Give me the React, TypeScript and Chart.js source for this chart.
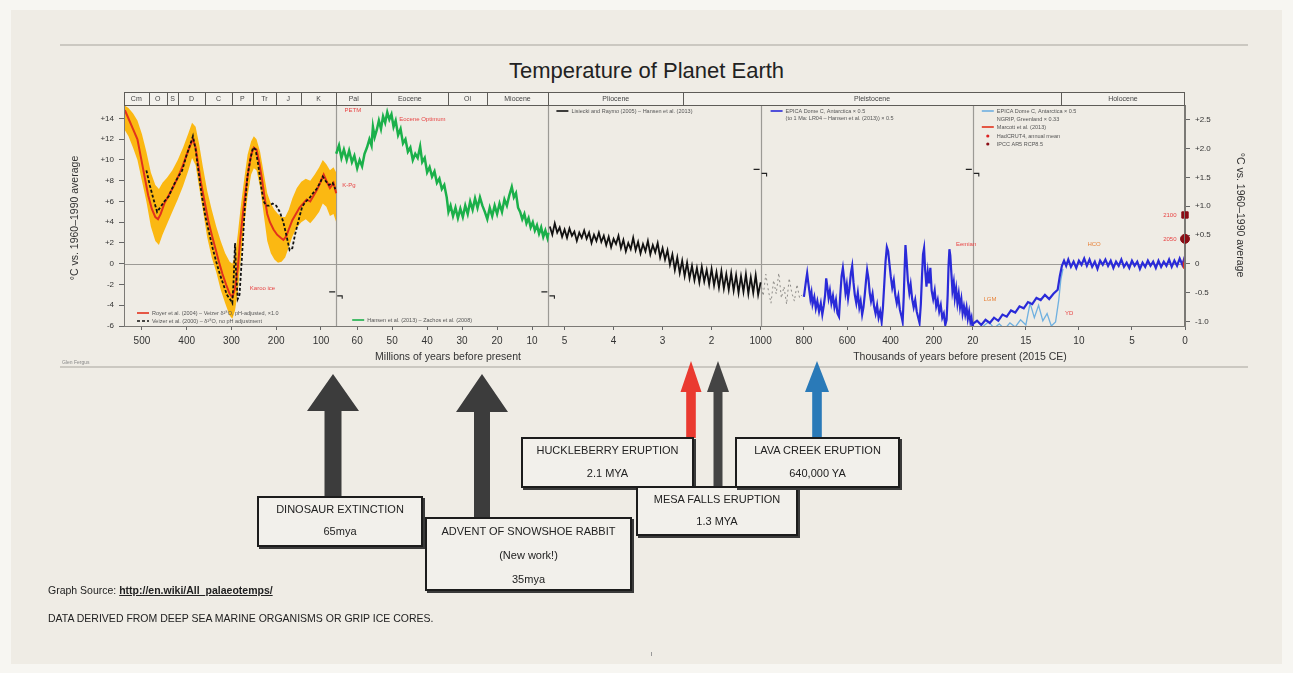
import { useEffect, useRef } from 'react';
import { Chart, registerables } from 'chart.js';

Chart.register(...registerables);

const FONT = '"Liberation Sans", Arial, Helvetica, sans-serif';
const BG = '#efece5';

// ---- Phanerozoic (Ma) ----
const royerMa = [538, 530, 520, 510, 502, 494, 486, 478, 470, 464, 458, 450, 440, 430, 420, 410, 400, 392, 386, 380, 374, 368, 360, 352, 344, 336, 328, 320, 312, 304, 298, 292, 286, 280, 274, 268, 262, 256, 250, 244, 238, 232, 226, 220, 214, 206, 198, 190, 184, 178, 172, 164, 156, 148, 140, 132, 124, 116, 108, 100, 94, 88, 80, 72, 66];
const royerTemp = [14.8, 14.0, 13.0, 12.0, 10.2, 8.4, 6.6, 5.3, 4.5, 4.3, 4.8, 5.8, 6.6, 7.4, 8.3, 9.3, 10.5, 11.4, 12.0, 11.2, 9.5, 7.8, 6.0, 4.2, 2.8, 1.5, 0.2, -1.0, -2.0, -2.9, -3.2, -2.4, -0.5, 2.5, 5.0, 7.2, 9.0, 10.5, 11.2, 11.0, 9.8, 8.2, 6.4, 4.8, 4.0, 3.3, 2.8, 2.5, 2.3, 2.6, 3.3, 4.2, 4.8, 5.4, 5.8, 6.2, 6.0, 6.6, 7.2, 8.0, 8.6, 8.0, 7.3, 7.8, 6.8];

const veizerMa = [490, 482, 474, 466, 458, 450, 440, 430, 420, 410, 400, 392, 386, 380, 374, 366, 358, 350, 342, 334, 326, 318, 310, 302, 298, 295, 292, 290, 286, 282, 276, 270, 264, 258, 252, 246, 240, 234, 228, 222, 216, 208, 200, 192, 184, 176, 170, 164, 158, 150, 142, 134, 126, 118, 110, 102, 96, 90, 82, 74, 68];
const veizerTemp = [9.0, 7.5, 6.2, 5.0, 5.5, 6.0, 6.5, 7.5, 8.3, 9.0, 10.5, 11.5, 12.3, 11.0, 9.0, 6.5, 4.5, 3.0, 1.5, 0.2, -1.0, -2.0, -3.0, -3.5, -3.8, -1.5, 2.0, -0.5, -3.4, -3.0, 1.0, 5.5, 8.5, 10.0, 11.2, 11.0, 9.5, 7.5, 6.0, 5.6, 5.6, 5.8, 5.6, 5.0, 4.0, 2.5, 1.3, 1.5, 2.8, 4.2, 5.5, 6.0, 6.3, 6.8, 7.2, 7.8, 8.4, 8.0, 7.6, 7.8, 7.2];

const bandMa = [540, 530, 520, 510, 500, 490, 480, 470, 462, 454, 444, 432, 420, 408, 396, 388, 380, 372, 364, 354, 344, 334, 324, 314, 304, 298, 292, 286, 280, 272, 264, 256, 250, 244, 236, 228, 220, 212, 204, 196, 188, 180, 172, 164, 154, 144, 134, 124, 114, 104, 96, 88, 80, 72, 66];
const bandHigh = [15.3, 15.0, 14.5, 13.8, 12.5, 10.8, 8.8, 7.6, 7.2, 7.8, 8.3, 9.0, 10.0, 11.2, 12.6, 13.6, 13.2, 11.5, 9.4, 7.0, 5.2, 3.6, 2.2, 1.0, 0.2, 0.0, 0.8, 2.8, 5.2, 8.0, 10.5, 11.8, 12.3, 12.0, 10.8, 8.8, 6.8, 5.8, 5.2, 4.8, 4.5, 4.5, 5.2, 6.3, 7.3, 7.9, 8.2, 8.0, 8.6, 9.3, 10.0, 9.6, 9.0, 9.3, 8.8];
const bandLow = [13.0, 12.3, 11.2, 10.0, 8.0, 6.0, 3.6, 2.2, 1.8, 2.8, 3.8, 5.0, 6.2, 7.5, 9.0, 10.2, 9.5, 7.3, 5.2, 2.5, 0.6, -0.8, -2.5, -3.8, -5.0, -5.3, -4.5, -2.8, 0.0, 3.5, 6.5, 8.6, 9.2, 9.0, 7.4, 4.8, 2.2, 1.0, 0.4, 0.1, 0.2, 0.6, 1.6, 2.6, 3.5, 4.0, 4.3, 3.9, 4.4, 5.0, 5.8, 5.5, 4.6, 4.8, 4.0];

// ---- Cenozoic (Ma) ----
const cenozoicMa = [66.0, 65.2, 64.5, 63.8, 63.0, 62.3, 61.5, 60.8, 60.0, 59.3,
  58.6, 57.9, 57.2, 56.5, 55.9, 55.5, 55.0, 54.4, 53.8, 53.2,
  52.6, 52.0, 51.4, 50.8, 50.2, 49.6, 49.0, 48.3, 47.6, 46.9,
  46.2, 45.5, 44.8, 44.1, 43.4, 42.7, 42.0, 41.4, 40.7, 40.0,
  39.3, 38.6, 37.9, 37.2, 36.5, 35.8, 35.1, 34.4, 33.9, 33.3,
  32.6, 31.9, 31.2, 30.5, 29.8, 29.1, 28.4, 27.7, 27.0, 26.3,
  25.6, 24.9, 24.2, 23.5, 22.8, 22.1, 21.4, 20.7, 20.0, 19.3,
  18.6, 17.9, 17.2, 16.5, 15.8, 15.2, 14.6, 14.0, 13.4, 12.8,
  12.2, 11.6, 11.0, 10.4, 9.8, 9.2, 8.6, 8.0, 7.4, 6.8,
  6.2, 5.6, 5.33];
const cenozoicTemp = [10.6, 11.4, 10.2, 11.0, 10.0, 10.9, 9.8, 10.4, 9.2, 10.0,
  9.4, 10.6, 11.2, 12.0, 11.4, 13.2, 12.2, 12.9, 13.8, 13.0,
  14.2, 13.6, 14.6, 13.9, 14.4, 13.2, 13.8, 12.4, 13.0, 11.6,
  12.0, 10.8, 11.2, 10.0, 10.6, 10.2, 11.3, 9.8, 10.2, 8.8,
  9.3, 8.4, 8.9, 7.8, 8.2, 7.2, 7.6, 6.4, 5.0, 5.6,
  4.6, 5.4, 4.4, 5.3, 4.5, 5.6, 4.8, 6.0, 5.2, 6.3,
  5.4, 6.4, 5.6, 5.0, 4.3, 5.4, 4.6, 5.6, 4.8, 5.8,
  5.0, 6.2, 5.6, 6.6, 7.4, 6.4, 6.8, 5.4, 5.0, 4.3,
  4.8, 3.9, 4.4, 3.5, 4.0, 3.2, 3.7, 2.9, 3.5, 2.6,
  3.2, 2.5, 3.0];

// ---- Pliocene / early Pleistocene (Ma) ----
const plioMa = [5.30, 5.25, 5.20, 5.15, 5.10, 5.05, 5.00, 4.95, 4.90, 4.85,
  4.80, 4.75, 4.70, 4.65, 4.60, 4.55, 4.50, 4.45, 4.40, 4.35,
  4.30, 4.25, 4.20, 4.15, 4.10, 4.05, 4.00, 3.95, 3.90, 3.85,
  3.80, 3.75, 3.70, 3.65, 3.60, 3.55, 3.50, 3.45, 3.40, 3.35,
  3.30, 3.25, 3.20, 3.15, 3.10, 3.05, 3.00, 2.95, 2.90, 2.85,
  2.80, 2.75, 2.70, 2.65, 2.60, 2.55, 2.50, 2.45, 2.40, 2.35,
  2.30, 2.25, 2.20, 2.15, 2.10, 2.05, 2.00, 1.95, 1.90, 1.85,
  1.80, 1.75, 1.70, 1.65, 1.60, 1.55, 1.50, 1.45, 1.40, 1.35,
  1.30, 1.25, 1.20, 1.15, 1.10, 1.05, 1.00];
const plioTemp = [3.6, 2.8, 3.9, 3.0, 3.5, 2.6, 3.3, 2.5, 3.4, 2.7,
  3.1, 2.2, 3.0, 2.5, 3.2, 2.4, 3.0, 2.0, 2.8, 2.2,
  3.0, 2.1, 2.7, 1.8, 2.6, 1.6, 2.4, 1.9, 2.7, 1.5,
  2.3, 1.2, 2.0, 1.4, 2.5, 1.3, 2.1, 1.0, 1.9, 1.2,
  2.2, 0.9, 1.8, 1.1, 2.0, 0.6, 1.5, 0.4, 1.3, -0.1,
  0.9, -0.6, 0.6, -0.9, 0.3, -1.2, 0.1, -1.4, -0.2, -1.6,
  -0.4, -1.8, -0.3, -1.7, -0.6, -2.0, -0.5, -2.1, -0.8, -2.3,
  -0.7, -2.4, -1.0, -2.5, -0.9, -2.6, -1.1, -2.8, -1.2, -2.7,
  -1.0, -2.9, -1.3, -2.8, -1.1, -3.0, -1.8];

// ---- Late Pleistocene (ka) ----
const preEpicaKa = [1000, 988, 976, 964, 952, 940, 928, 916, 904, 892, 880, 868, 856, 844, 832, 820, 808];
const preEpicaTemp = [-1.8, -3.1, -1.0, -2.6, -3.8, -1.6, -2.9, -0.9, -3.3, -2.2, -3.9, -1.4, -2.8, -3.6, -2.0, -3.3, -3.0];

const epicaKa = [800, 795, 790, 785, 780, 775, 770, 765, 760, 752,
  745, 738, 730, 722, 715, 708, 702, 697, 692, 686,
  680, 673, 666, 659, 652, 645, 638, 632, 626, 620,
  614, 608, 602, 596, 590, 583, 577, 571, 565, 558,
  551, 544, 538, 531, 525, 519, 513, 508, 502, 496,
  490, 483, 476, 469, 462, 455, 448, 441, 435, 429,
  423, 417, 411, 405, 399, 392, 385, 378, 371, 364,
  357, 350, 344, 339, 335, 331, 326, 320, 313, 307,
  300, 293, 286, 279, 272, 266, 260, 255, 250, 245,
  240, 234, 228, 222, 216, 210, 203, 196, 189, 182,
  175, 168, 161, 154, 147, 141, 136, 132, 128, 124,
  119, 114, 108, 103, 97, 91, 85, 79, 73, 67,
  61, 55, 49, 43, 37, 31, 26, 22, 20];
const epicaTemp = [-3.2, -2.4, -1.6, -0.9, -1.8, -2.6, -3.4, -2.8, -3.9, -3.2,
  -4.3, -3.6, -4.6, -3.8, -4.9, -4.0, -3.0, -1.4, -2.2, -3.3,
  -2.6, -3.8, -3.1, -4.2, -3.5, -4.8, -5.1, -3.0, -1.2, -0.4,
  -1.5, -2.8, -2.0, -3.3, -2.4, -0.9, -0.2, -1.8, -3.0, -3.8,
  -2.8, -4.2, -3.6, -4.9, -4.2, -3.0, -1.6, -0.6, -1.4, -2.8,
  -3.6, -2.9, -4.1, -4.8, -4.0, -5.2, -4.6, -5.6, -4.2, -2.0,
  0.2, 1.6, 1.2, 0.0, -1.2, -2.3, -1.6, -3.0, -3.8, -3.1,
  -4.4, -5.0, -5.6, -3.2, -0.6, 1.8, 0.4, -1.6, -2.8, -2.0,
  -3.4, -4.2, -3.5, -4.6, -5.2, -5.7, -3.9, -1.4, 0.9, 1.5,
  -0.6, -2.2, -0.8, -1.9, -0.4, -2.6, -3.4, -2.6, -4.1, -3.5,
  -4.6, -4.0, -5.2, -4.8, -5.9, -5.4, -3.0, -0.2, 1.4, 0.8,
  -0.9, -2.6, -1.8, -3.3, -2.4, -3.8, -2.9, -4.2, -3.4, -4.8,
  -4.1, -4.9, -4.2, -5.3, -4.6, -5.6, -5.2, -6.0, -5.8];

// ---- Deglaciation and Holocene (ka) ----
const deglacialKa = [20.0, 19.6, 19.2, 18.8, 18.4, 18.0, 17.6, 17.2, 16.8, 16.4, 16.0, 15.6, 15.2, 14.8, 14.4, 14.0, 13.6, 13.2, 12.8, 12.4, 12.0, 11.8, 11.6, 11.4];
const deglacialTemp = [-5.8, -5.5, -5.9, -5.4, -5.7, -5.2, -5.5, -4.9, -5.1, -4.5, -4.7, -4.1, -4.3, -3.7, -3.9, -3.3, -3.5, -3.0, -3.4, -2.9, -2.5, -1.2, -0.2, 0.3];
const holoceneKa = [11.2, 11.0, 10.75, 10.5, 10.25, 10.0, 9.75, 9.5, 9.25, 9.0,
  8.75, 8.5, 8.25, 8.0, 7.75, 7.5, 7.25, 7.0, 6.75, 6.5,
  6.25, 6.0, 5.75, 5.5, 5.25, 5.0, 4.75, 4.5, 4.25, 4.0,
  3.75, 3.5, 3.25, 3.0, 2.75, 2.5, 2.25, 2.0, 1.75, 1.5,
  1.25, 1.0, 0.75, 0.5, 0.25, 0.1, 0];
const holoceneTemp = [-0.2, 0.4, -0.3, 0.2, -0.4, 0.3, -0.1, 0.5, -0.2, 0.4,
  -0.3, 0.2, -0.5, 0.3, -0.1, 0.4, -0.2, 0.3, -0.4, 0.2,
  -0.2, 0.4, -0.3, 0.1, -0.4, 0.3, -0.2, 0.2, -0.5, 0.1,
  -0.3, 0.3, -0.2, 0.2, -0.4, 0.3, -0.3, 0.2, -0.2, 0.4,
  -0.3, 0.3, -0.2, 0.5, -0.1, 0.4, 0.1];
const greenlandKa = [19.0, 18.5, 18.0, 17.5, 17.0, 16.5, 16.0, 15.5, 15.0, 14.6, 14.2, 13.8, 13.4, 13.0, 12.6, 12.2, 11.9, 11.7, 11.5];
const greenlandTemp = [-6.0, -5.6, -6.2, -5.8, -6.3, -5.7, -6.1, -5.4, -5.9, -3.8, -5.2, -4.0, -5.5, -4.8, -6.0, -5.6, -3.5, -1.5, -0.5];
const instrumentalKa = [0.165, 0.12, 0.08, 0.05, 0.03, 0.015, 0];
const instrumentalTemp = [-0.4, -0.2, -0.3, 0.0, 0.1, 0.4, 0.7];

// ---- Projections ----
const projectionYears = ['2050', '2100'];
const projectionTemp = [2.4, 4.7];
const projectionShape = ['circle', 'rect'];

// ---- Axes ----
const panelEdgesMa = [540, 66, 5.33, 1, 0.02, 0];
const xTickMa = [500, 400, 300, 200, 100, 60, 50, 40, 30, 20, 10, 5, 4, 3, 2, 1, 0.8, 0.6, 0.4, 0.2, 0.02, 0.015, 0.01, 0.005, 0];
const xTickLabels = ['500', '400', '300', '200', '100', '60', '50', '40', '30', '20', '10', '5', '4', '3', '2', '1000', '800', '600', '400', '200', '20', '15', '10', '5', '0'];
const leftTicks = [-6, -4, -2, 0, 2, 4, 6, 8, 10, 12, 14];
const rightTicks = [-1, -0.5, 0, 0.5, 1, 1.5, 2, 2.5];

const eraEdgesMa = [540, 485, 444, 419, 359, 299, 252, 201, 145, 66, 56, 33.9, 23, 5.33, 2.58, 0.0117, 0];
const eraNames = ['Cm', 'O', 'S', 'D', 'C', 'P', 'Tr', 'J', 'K', 'Pal', 'Eocene', 'Ol', 'Miocene', 'Pliocene', 'Pleistocene', 'Holocene'];

// Piecewise time axis: each panel is a linear segment of equal width
function timeToU(ma: number): number {
  const n = panelEdgesMa.length - 1;
  for (let i = 0; i < n; i++) {
    const hi = panelEdgesMa[i];
    const lo = panelEdgesMa[i + 1];
    if (ma >= lo || i === n - 1) return i + (hi - ma) / (hi - lo);
  }
  return 0;
}

const pts = (times: number[], temps: number[], toMa = 1) =>
  times.map((t, i) => ({ x: timeToU(t * toMa), y: temps[i] }));

const line = (data: any, color: string, width: number, order: number, extra: any = {}) => ({
  data,
  borderColor: color,
  backgroundColor: color,
  borderWidth: width,
  pointRadius: 0,
  fill: false,
  order,
  ...extra,
});

const overlay = {
  id: 'overlay',
  beforeDatasetsDraw(chart: any) {
    const { ctx, chartArea: a, scales } = chart;
    ctx.save();
    ctx.strokeStyle = '#9c9a95';
    ctx.lineWidth = 1.2;
    for (let u = 1; u <= 4; u++) {
      const px = Math.round(scales.x.getPixelForValue(u)) + 0.5;
      ctx.beginPath();
      ctx.moveTo(px, a.top);
      ctx.lineTo(px, a.bottom);
      ctx.stroke();
    }
    const y0 = Math.round(scales.y.getPixelForValue(0)) + 0.5;
    ctx.beginPath();
    ctx.moveTo(a.left, y0);
    ctx.lineTo(a.right, y0);
    ctx.stroke();
    ctx.restore();
  },
  afterDraw(chart: any) {
    const { ctx, chartArea: a, scales } = chart;
    const X = (ma: number) => scales.x.getPixelForValue(timeToU(ma));
    const Y = (t: number) => scales.y.getPixelForValue(t);
    ctx.save();

    // frame
    ctx.strokeStyle = '#7b7975';
    ctx.lineWidth = 1;
    ctx.strokeRect(a.left + 0.5, a.top + 0.5, a.right - a.left - 1, a.bottom - a.top);

    // era header
    const hTop = a.top - 13;
    ctx.fillStyle = '#f3f1ec';
    ctx.fillRect(a.left, hTop, a.right - a.left, 13);
    ctx.strokeStyle = '#5e5c58';
    ctx.strokeRect(a.left + 0.5, hTop + 0.5, a.right - a.left - 1, 13);
    ctx.font = `7px ${FONT}`;
    ctx.fillStyle = '#444';
    ctx.textAlign = 'center';
    ctx.textBaseline = 'middle';
    for (let i = 0; i < eraNames.length; i++) {
      const x0 = X(eraEdgesMa[i]);
      const x1 = X(eraEdgesMa[i + 1]);
      if (i > 0) {
        const px = Math.round(x0) + 0.5;
        ctx.beginPath();
        ctx.moveTo(px, hTop);
        ctx.lineTo(px, a.top);
        ctx.stroke();
      }
      ctx.fillText(eraNames[i], (x0 + x1) / 2, hTop + 7);
    }

    // panel legends
    const legend = (x: number, y: number, color: string | null, text: string, dash: number[] = [], dot = false) => {
      if (color) {
        ctx.strokeStyle = color;
        ctx.fillStyle = color;
        ctx.lineWidth = 1.6;
        ctx.setLineDash(dash);
        if (dot) {
          ctx.beginPath();
          ctx.arc(x + 6, y, 1.6, 0, Math.PI * 2);
          ctx.fill();
        } else {
          ctx.beginPath();
          ctx.moveTo(x, y);
          ctx.lineTo(x + 12, y);
          ctx.stroke();
        }
        ctx.setLineDash([]);
      }
      ctx.font = `5.5px ${FONT}`;
      ctx.fillStyle = '#555';
      ctx.textAlign = 'left';
      ctx.textBaseline = 'middle';
      ctx.fillText(text, x + 15, y);
    };
    const p1 = X(540), p2 = X(66), p3 = X(5.33), p4 = X(1), p5 = X(0.02);
    legend(p1 + 13, a.bottom - 13, '#e2321c', 'Royer et al. (2004) \u2013 Veizer \u03b4\u00b9\u2078O, pH-adjusted, \u00d71.0');
    legend(p1 + 13, a.bottom - 5, '#111', 'Veizer et al. (2000) \u2013 \u03b4\u00b9\u2078O, no pH adjustment', [3, 2]);
    legend(p2 + 16, a.bottom - 6, '#1bb04a', 'Hansen et al. (2013) \u2013 Zachos et al. (2008)');
    legend(p3 + 8, a.top + 6, '#111', 'Lisiecki and Raymo (2005) \u2013 Hansen et al. (2013)');
    legend(p4 + 10, a.top + 6, '#2a2ad8', 'EPICA Dome C, Antarctica \u00d7 0.5');
    legend(p4 + 10, a.top + 13, null, '(to 1 Ma: LR04 \u2013 Hansen et al. (2013)) \u00d7 0.5');
    legend(p5 + 9, a.top + 6, '#6fb0e0', 'EPICA Dome C, Antarctica \u00d7 0.5');
    legend(p5 + 9, a.top + 14, null, 'NGRIP, Greenland \u00d7 0.33');
    legend(p5 + 9, a.top + 22, '#e2321c', 'Marcott et al. (2013)');
    legend(p5 + 9, a.top + 31, '#d22', 'HadCRUT4, annual mean', [], true);
    legend(p5 + 9, a.top + 39, '#8b0d16', 'IPCC AR5 RCP8.5', [], true);

    // event labels
    const note = (text: string, ma: number, t: number, color = '#e84444', align: CanvasTextAlign = 'left') => {
      ctx.font = `6px ${FONT}`;
      ctx.fillStyle = color;
      ctx.textAlign = align;
      ctx.textBaseline = 'middle';
      ctx.fillText(text, X(ma), Y(t));
    };
    note('PETM', 63.6, 14.8);
    note('Eocene Optimum', 48, 13.9);
    note('K-Pg', 64.3, 7.6);
    note('Karoo ice', 259, -2.4);
    note('Eemian', 0.098, 1.9);
    note('LGM', 0.019, -3.4, '#e8833a');
    note('YD', 0.0113, -4.8);
    note('HCO', 0.0092, 1.85, '#e8833a');
    for (let i = 0; i < projectionYears.length; i++) {
      note(projectionYears[i], 0.0008, projectionTemp[i], '#e84444', 'right');
    }

    // axis breaks
    ctx.strokeStyle = '#222';
    ctx.lineWidth = 1.1;
    const brk = (u: number, t: number) => {
      const x = scales.x.getPixelForValue(u);
      const y = Y(t);
      ctx.beginPath();
      ctx.moveTo(x - 7, y - 2);
      ctx.lineTo(x - 1, y - 2);
      ctx.moveTo(x + 1, y + 2);
      ctx.lineTo(x + 6, y + 2);
      ctx.lineTo(x + 6, y + 5);
      ctx.stroke();
    };
    brk(1, -2.9);
    brk(2, -2.9);
    brk(3, 8.9);
    brk(4, 8.9);

    // axis titles
    ctx.fillStyle = '#333';
    ctx.font = `10.5px ${FONT}`;
    ctx.textAlign = 'center';
    ctx.textBaseline = 'middle';
    ctx.fillText('Millions of years before present', 448, a.bottom + 31);
    ctx.fillText('Thousands of years before present (2015 CE)', 960, a.bottom + 31);
    ctx.save();
    ctx.translate(75, 218);
    ctx.rotate(-Math.PI / 2);
    ctx.fillText('\u00b0C vs. 1960\u20131990 average', 0, 0);
    ctx.restore();
    ctx.save();
    ctx.translate(1240, 215);
    ctx.rotate(Math.PI / 2);
    ctx.fillText('\u00b0C vs. 1960\u20131990 average', 0, 0);
    ctx.restore();

    ctx.restore();
  },
};

function arrow(cx: number, tipY: number, headY: number, endY: number, headHalf: number, shaftHalf: number) {
  return [
    [cx, tipY], [cx + headHalf, headY], [cx + shaftHalf, headY], [cx + shaftHalf, endY],
    [cx - shaftHalf, endY], [cx - shaftHalf, headY], [cx - headHalf, headY],
  ].map((p) => p.join(',')).join(' ');
}

function Box(props: { left: number; top: number; width: number; height: number; lineHeight: number; lines: string[] }) {
  const { left, top, width, height, lineHeight, lines } = props;
  return (
    <div
      style={{
        position: 'absolute', left, top, width, height, boxSizing: 'border-box',
        border: '2px solid #1c1c1c', boxShadow: '2px 2px 0 #3a3a3a', background: '#f2f0eb',
        textAlign: 'center', fontSize: 11, color: '#222', lineHeight: `${lineHeight}px`,
      }}
    >
      {lines.map((l) => (<div key={l}>{l}</div>))}
    </div>
  );
}

export default function App() {
  const ref = useRef<HTMLCanvasElement>(null);

  useEffect(() => {
    const yTicks = (vals: number[]) => (s: any) => { s.ticks = vals.map((v) => ({ value: v })); };
    const chart = new Chart(ref.current as HTMLCanvasElement, {
      type: 'line',
      data: {
        datasets: [
          line(pts(veizerMa, veizerTemp), '#111', 1.8, 1, { borderDash: [3, 2] }),
          line(pts(royerMa, royerTemp), '#e2321c', 2, 2),
          line(pts(bandMa, bandHigh), 'rgba(0,0,0,0)', 0, 9, { fill: '+1', backgroundColor: '#fbb812' }),
          line(pts(bandMa, bandLow), 'rgba(0,0,0,0)', 0, 10, { backgroundColor: 'rgba(0,0,0,0)' }),
          line(pts(cenozoicMa, cenozoicTemp), '#1bb04a', 2.5, 3),
          line(pts(plioMa, plioTemp), '#111', 1.8, 3),
          line(pts(preEpicaKa, preEpicaTemp, 0.001), '#8e8c88', 1, 4, { borderDash: [2, 3] }),
          line(pts(epicaKa, epicaTemp, 0.001), '#2a2ad8', 2.2, 3),
          line(pts(greenlandKa, greenlandTemp, 0.001), '#6fb0e0', 1.3, 4),
          line(pts(deglacialKa.concat(holoceneKa), deglacialTemp.concat(holoceneTemp), 0.001), '#2a2ad8', 2.2, 3),
          line(pts(instrumentalKa, instrumentalTemp, 0.001), '#e2321c', 2, 1),
          {
            data: projectionTemp.map((t) => ({ x: timeToU(0), y: t })),
            showLine: false,
            pointStyle: projectionShape,
            pointRadius: 4.5,
            pointBackgroundColor: '#8b0d16',
            pointBorderColor: '#8b0d16',
            clip: false,
            order: 0,
          },
        ] as any,
      },
      options: {
        responsive: false,
        animation: false,
        devicePixelRatio: 1,
        events: [],
        layout: { padding: { top: 105, left: 0, right: 0, bottom: 0 } },
        plugins: { legend: { display: false }, tooltip: { enabled: false } },
        elements: { line: { tension: 0 } },
        scales: {
          x: {
            type: 'linear', min: 0, max: 5,
            afterBuildTicks: (s: any) => { s.ticks = xTickMa.map((m) => ({ value: timeToU(m) })); },
            afterFit: (s: any) => { s.height = 49; },
            ticks: {
              autoSkip: false, maxRotation: 0, padding: 5, color: '#333',
              font: { size: 10, family: FONT },
              callback: (_v: any, i: number) => xTickLabels[i],
            },
            grid: { drawOnChartArea: false, tickLength: 4, color: '#666' },
            border: { color: '#7b7975' },
          },
          y: {
            type: 'linear', position: 'left', min: -6, max: 15.3,
            afterBuildTicks: yTicks(leftTicks),
            afterFit: (s: any) => { s.width = 124; },
            ticks: {
              padding: 5, color: '#333', font: { size: 8, family: FONT },
              callback: (v: any) => (v > 0 ? `+${v}` : `${v}`),
            },
            grid: { drawOnChartArea: false, tickLength: 5, color: '#666' },
            border: { color: '#7b7975' },
          },
          y2: {
            type: 'linear', position: 'right', min: -1.08, max: 2.76,
            afterBuildTicks: yTicks(rightTicks),
            afterFit: (s: any) => { s.width = 108; },
            ticks: {
              padding: 5, color: '#333', font: { size: 8, family: FONT },
              callback: (v: any) => (v === 0 ? '0' : `${v > 0 ? '+' : ''}${Number(v).toFixed(1)}`),
            },
            grid: { drawOnChartArea: false, tickLength: 5, color: '#666' },
            border: { color: '#7b7975' },
          },
        },
      } as any,
      plugins: [overlay],
    });
    return () => chart.destroy();
  }, []);

  return (
    <div style={{ position: 'fixed', left: 0, top: 0, width: 1293, height: 673, background: '#f7f6f2', overflow: 'hidden', fontFamily: FONT }}>
      <div style={{ position: 'absolute', left: 11, top: 10, width: 1271, height: 654, background: BG }} />
      <div style={{ position: 'absolute', left: 60, top: 44, width: 1188, height: 2, background: '#cbc8c1' }} />
      <div style={{ position: 'absolute', left: 60, top: 366, width: 1188, height: 2, background: '#cbc8c1' }} />
      <div style={{ position: 'absolute', left: 0, top: 58, width: 1293, textAlign: 'center', fontSize: 22, lineHeight: '26px', color: '#222' }}>
        Temperature of Planet Earth
      </div>
      <canvas ref={ref} width={1293} height={375} style={{ position: 'absolute', left: 0, top: 0 }} />
      <div style={{ position: 'absolute', left: 62, top: 359, fontSize: 5, color: '#888' }}>Glen Fergus</div>

      <svg width={1293} height={673} style={{ position: 'absolute', left: 0, top: 0 }}>
        <polygon points={arrow(333, 374, 411, 497, 26, 8.5)} fill="#3c3c3c" />
        <polygon points={arrow(482, 374, 412, 518, 26, 8)} fill="#3c3c3c" />
        <polygon points={arrow(691, 361, 392, 438, 10.5, 4.8)} fill="#ea3a30" />
        <polygon points={arrow(718, 361, 392, 487, 11, 4.5)} fill="#444444" />
        <polygon points={arrow(817, 361, 392, 438, 12, 4.8)} fill="#2a7ab8" />
      </svg>

      <Box left={257} top={496} width={166} height={51} lineHeight={22} lines={['DINOSAUR EXTINCTION', '65mya']} />
      <Box left={425} top={517} width={207} height={74} lineHeight={24} lines={['ADVENT OF SNOWSHOE RABBIT', '(New work!)', '35mya']} />
      <Box left={521} top={437} width={173} height={51} lineHeight={23} lines={['HUCKLEBERRY ERUPTION', '2.1 MYA']} />
      <Box left={636} top={486} width={162} height={50} lineHeight={22} lines={['MESA FALLS ERUPTION', '1.3 MYA']} />
      <Box left={735} top={437} width={165} height={51} lineHeight={23} lines={['LAVA CREEK ERUPTION', '640,000 YA']} />

      <div style={{ position: 'absolute', left: 48, top: 584, fontSize: 10.5, color: '#222' }}>
        Graph Source: <span style={{ textDecoration: 'underline', fontWeight: 'bold' }}>http://en.wiki/All_palaeotemps/</span>
      </div>
      <div style={{ position: 'absolute', left: 48, top: 612, fontSize: 10.5, color: '#222' }}>
        DATA DERIVED FROM DEEP SEA MARINE ORGANISMS OR GRIP ICE CORES.
      </div>
      <div style={{ position: 'absolute', left: 651, top: 652, width: 1, height: 4, background: '#999' }} />
    </div>
  );
}
